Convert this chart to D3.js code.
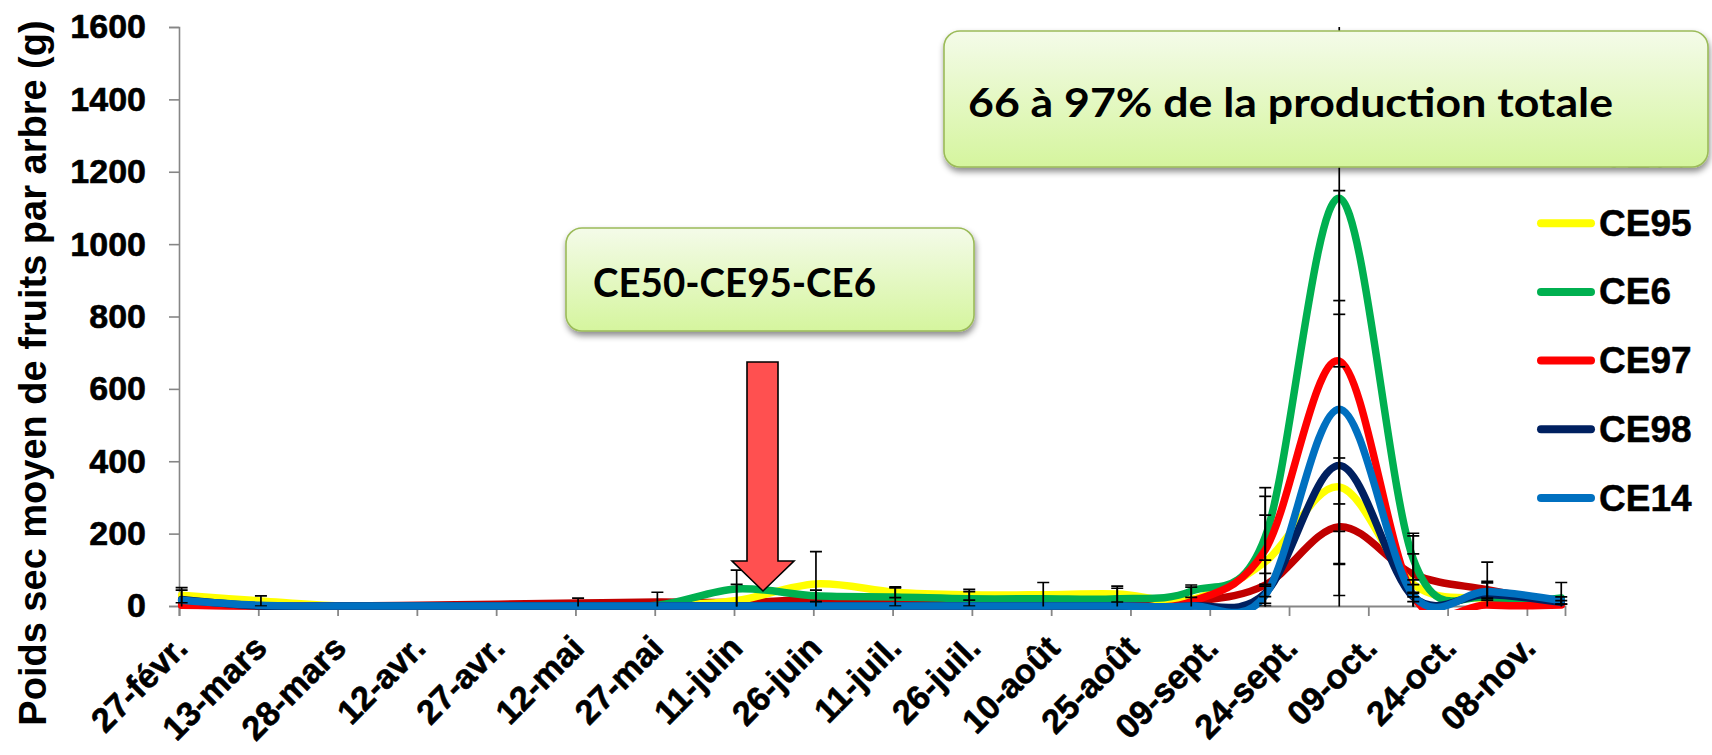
<!DOCTYPE html>
<html>
<head>
<meta charset="utf-8">
<script src="https://cdn.jsdelivr.net/npm/d3@7"></script>
<style>
  html, body { margin: 0; padding: 0; background: #ffffff; }
  svg { display: block; }
</style>
</head>
<body>
<svg id="chart" width="1712" height="755"></svg>
<script>
// Sampling dates (2012) and mean dry fruit weight per tree (g) for each clone
const sampleDates = ["2012-02-27","2012-03-13","2012-03-28","2012-04-12","2012-04-27","2012-05-12","2012-05-27",
  "2012-06-11","2012-06-26","2012-07-11","2012-07-25","2012-08-08","2012-08-22","2012-09-05","2012-09-19",
  "2012-10-03","2012-10-17","2012-10-31","2012-11-14"];

const seriesNames  = ["CE50", "CE95", "CE6", "CE97", "CE98", "CE14"];
const seriesColors = ["#c00000", "#ffff00", "#00b050", "#ff0000", "#002060", "#0070c0"];

const ce50 = [3, 0, 0, 2, 5, 8, 11, 10, 17, 12, 8, 6, 5, 12, 58, 219, 88, 45, 8];
const ce95 = [30, 14, 0, 0, 0, 0, 0, 15, 61, 38, 31, 31, 33, 18, 122, 329, 60, 20, 8];
const ce6  = [15, 0, 0, 0, 0, 0, 2, 47, 28, 25, 20, 20, 20, 41, 191, 1127, 130, 22, 22];
const ce97 = [2, 0, 0, 0, 0, 0, 0, 0, 0, 0, 0, 0, 0, 12, 155, 677, 28, 3, 3];
const ce98 = [18, 0, 0, 0, 0, 0, 0, 0, 0, 0, 0, 0, 0, 0, 35, 388, 25, 32, 10];
const ce14 = [16, 2, 0, 0, 0, 0, 0, 0, 0, 0, 0, 0, 0, 0, 30, 544, 30, 40, 15];

// Error bar half-widths (g); 0 = no bar
const ce50Err = [0, 0, 0, 0, 0, 14, 27, 0, 0, 0, 0, 0, 0, 0, 32, 190, 106, 23, 0];
const ce95Err = [21, 14, 0, 0, 0, 0, 0, 45, 89, 15, 15, 34, 22, 0, 129, 515, 84, 0, 0];
const ce6Err  = [0, 0, 0, 0, 0, 0, 0, 52, 16, 25, 20, 0, 29, 17, 136, 1010, 71, 0, 43];
const ce97Err = [0, 0, 0, 0, 0, 0, 0, 0, 0, 0, 0, 0, 0, 40, 148, 471, 44, 0, 0];
const ce98Err = [26, 0, 0, 0, 0, 0, 0, 0, 0, 0, 0, 0, 0, 0, 92, 273, 13, 89, 5];
const ce14Err = [0, 0, 0, 0, 0, 0, 0, 0, 0, 0, 0, 0, 0, 0, 30, 262, 5, 24, 10];

// Axis ticks
const yTicks = [0, 200, 400, 600, 800, 1000, 1200, 1400, 1600];
const xTickDates = ["2012-02-27","2012-03-13","2012-03-28","2012-04-12","2012-04-27","2012-05-12","2012-05-27",
  "2012-06-11","2012-06-26","2012-07-11","2012-07-26","2012-08-10","2012-08-25","2012-09-09","2012-09-24",
  "2012-10-09","2012-10-24","2012-11-08"];
const xTickLabels = ["27-févr.","13-mars","28-mars","12-avr.","27-avr.","12-mai","27-mai","11-juin","26-juin",
  "11-juil.","26-juil.","10-août","25-août","09-sept.","24-sept.","09-oct.","24-oct.","08-nov."];

const yTitle = "Poids sec moyen de fruits par arbre (g)";
const calloutSmall = "CE50-CE95-CE6";
const calloutBig = "66 à 97% de la production totale";

// ---------------------------------------------------------------
const parse = d3.timeParse("%Y-%m-%d");
const values = [ce50, ce95, ce6, ce97, ce98, ce14];
const errs = [ce50Err, ce95Err, ce6Err, ce97Err, ce98Err, ce14Err];

const series = seriesNames.map((name, i) => ({
  name, color: seriesColors[i],
  points: sampleDates.map((s, j) => ({ date: parse(s), v: values[i][j], e: errs[i][j] }))
}));

const svg = d3.select("#chart");
const axisColor = "#868686";
const fontMain = "'Liberation Sans', Arial, sans-serif";

const x = d3.scaleTime()
  .domain([parse("2012-02-27"), d3.timeHour.offset(parse("2012-11-15"), 5)])
  .range([179, 1565]);
const y = d3.scaleLinear().domain([0, 1600]).range([606, 27]);

// points sit in the middle of their day
const px = d => x(d3.timeHour.offset(d.date, 12));

const defs = svg.append("defs");
defs.append("clipPath").attr("id", "plotClip")
  .append("rect").attr("x", 150).attr("y", 0).attr("width", 1450).attr("height", 610);
defs.append("clipPath").attr("id", "errClip")
  .append("rect").attr("x", 150).attr("y", y(1600)).attr("width", 1450).attr("height", y(0) - y(1600) + 0.5);

const grad = defs.append("linearGradient").attr("id", "boxFill")
  .attr("x1", 0).attr("y1", 0).attr("x2", 0).attr("y2", 1);
grad.append("stop").attr("offset", "0%").attr("stop-color", "#f4fbe9");
grad.append("stop").attr("offset", "100%").attr("stop-color", "#d5f59e");

const shadow = defs.append("filter").attr("id", "boxShadow")
  .attr("x", "-10%").attr("y", "-20%").attr("width", "130%").attr("height", "150%");
shadow.append("feDropShadow").attr("dx", 1).attr("dy", 4).attr("stdDeviation", 3)
  .attr("flood-color", "#000").attr("flood-opacity", 0.45);

// heavier rendering of the bold chart text
function heavy(sel, w) {
  sel.attr("stroke", "#000").attr("stroke-width", w).attr("stroke-linejoin", "round");
}

// ---- Y axis
const yAxis = d3.axisLeft(y).tickValues(yTicks).tickSize(10).tickPadding(23).tickFormat(d3.format("d"));
const gy = svg.append("g").attr("transform", "translate(179,0)").call(yAxis);
gy.select(".domain").attr("stroke", axisColor).attr("stroke-width", 1.6);
gy.selectAll(".tick line").attr("stroke", axisColor).attr("stroke-width", 1.6);
gy.selectAll(".tick text")
  .attr("font-family", fontMain).attr("font-weight", "bold").attr("font-size", 34)
  .attr("fill", "#000").call(heavy, 0.6);

// ---- X axis
const xAxis = d3.axisBottom(x).tickValues(xTickDates.map(parse)).tickSize(10)
  .tickFormat((d, i) => xTickLabels[i]);
const gx = svg.append("g").attr("transform", "translate(0,606)").call(xAxis);
gx.select(".domain").attr("stroke", axisColor).attr("stroke-width", 1.8);
gx.selectAll(".tick line").attr("stroke", axisColor).attr("stroke-width", 1.8);
gx.selectAll(".tick text")
  .attr("font-family", fontMain).attr("font-weight", "bold").attr("font-size", 34)
  .attr("fill", "#000")
  .attr("text-anchor", "end")
  .attr("dy", 0).attr("y", 0)
  .attr("transform", "translate(10,44) rotate(-45)")
  .call(heavy, 0.6);

// ---- Y title
svg.append("text")
  .attr("transform", "translate(33,373) rotate(-90)")
  .attr("text-anchor", "middle").attr("dominant-baseline", "central")
  .attr("font-family", fontMain).attr("font-weight", "bold").attr("font-size", 38)
  .attr("fill", "#000").text(yTitle);

// ---- Lines
const line = d3.line().x(px).y(d => y(d.v)).curve(d3.curveCardinal.tension(0));
svg.append("g").attr("clip-path", "url(#plotClip)")
  .selectAll("path").data(series).join("path")
  .attr("d", s => line(s.points))
  .attr("fill", "none")
  .attr("stroke", s => s.color)
  .attr("stroke-width", 7.5)
  .attr("stroke-linecap", "round")
  .attr("stroke-linejoin", "round");

// ---- Error bars
const errData = series.flatMap(s => s.points.filter(p => p.e > 0));
const gErr = svg.append("g").attr("clip-path", "url(#errClip)")
  .attr("stroke", "#000").attr("stroke-width", 1.7);
gErr.selectAll("line.stem").data(errData).join("line").attr("class", "stem")
  .attr("x1", px).attr("x2", px)
  .attr("y1", d => y(d.v + d.e)).attr("y2", d => y(d.v - d.e));
gErr.selectAll("line.capHi").data(errData).join("line").attr("class", "capHi")
  .attr("x1", d => px(d) - 6).attr("x2", d => px(d) + 6)
  .attr("y1", d => y(d.v + d.e)).attr("y2", d => y(d.v + d.e));
gErr.selectAll("line.capLo").data(errData.filter(d => d.v - d.e >= 0)).join("line").attr("class", "capLo")
  .attr("x1", d => px(d) - 6).attr("x2", d => px(d) + 6)
  .attr("y1", d => y(d.v - d.e)).attr("y2", d => y(d.v - d.e));

// ---- Legend
const legend = svg.append("g");
const legItem = legend.selectAll("g").data(series).join("g")
  .attr("transform", (s, i) => `translate(0,${154.5 + i * 68.7})`);
legItem.append("line")
  .attr("x1", 1541).attr("x2", 1591).attr("y1", 0).attr("y2", 0)
  .attr("stroke", s => s.color).attr("stroke-width", 8).attr("stroke-linecap", "round");
legItem.append("text")
  .attr("x", 1599).attr("y", 0).attr("dominant-baseline", "central")
  .attr("font-family", fontMain).attr("font-weight", "bold").attr("font-size", 37)
  .attr("fill", "#000").text(s => s.name)
  .call(heavy, 0.5);

// ---- Arrow pointing at the June shoot
const arrow = d3.path();
arrow.moveTo(747, 362); arrow.lineTo(778, 362); arrow.lineTo(778, 561); arrow.lineTo(794, 561);
arrow.lineTo(763, 591); arrow.lineTo(732, 561); arrow.lineTo(747, 561); arrow.closePath();
svg.append("path").attr("d", arrow.toString())
  .attr("fill", "#ff5050").attr("stroke", "#000").attr("stroke-width", 1.6)
  .attr("stroke-linejoin", "miter");

// ---- Callouts
function callout(x0, y0, w, h, text, tx, ty, tLen) {
  const g = svg.append("g");
  g.append("rect").attr("x", x0).attr("y", y0).attr("width", w).attr("height", h)
    .attr("rx", 16).attr("ry", 16)
    .attr("fill", "url(#boxFill)").attr("stroke", "#9bbb59").attr("stroke-width", 1.6)
    .attr("filter", "url(#boxShadow)");
  g.append("text").attr("x", tx).attr("y", ty)
    .attr("font-family", "Lato, 'Open Sans', sans-serif").attr("font-weight", "bold")
    .attr("font-size", 41).attr("fill", "#000")
    .attr("textLength", tLen).attr("lengthAdjust", "spacingAndGlyphs")
    .text(text);
}
callout(566, 228, 408, 103, calloutSmall, 593, 297, 283);
callout(944, 31, 764, 136, calloutBig, 968, 117, 645);
</script>
</body>
</html>
